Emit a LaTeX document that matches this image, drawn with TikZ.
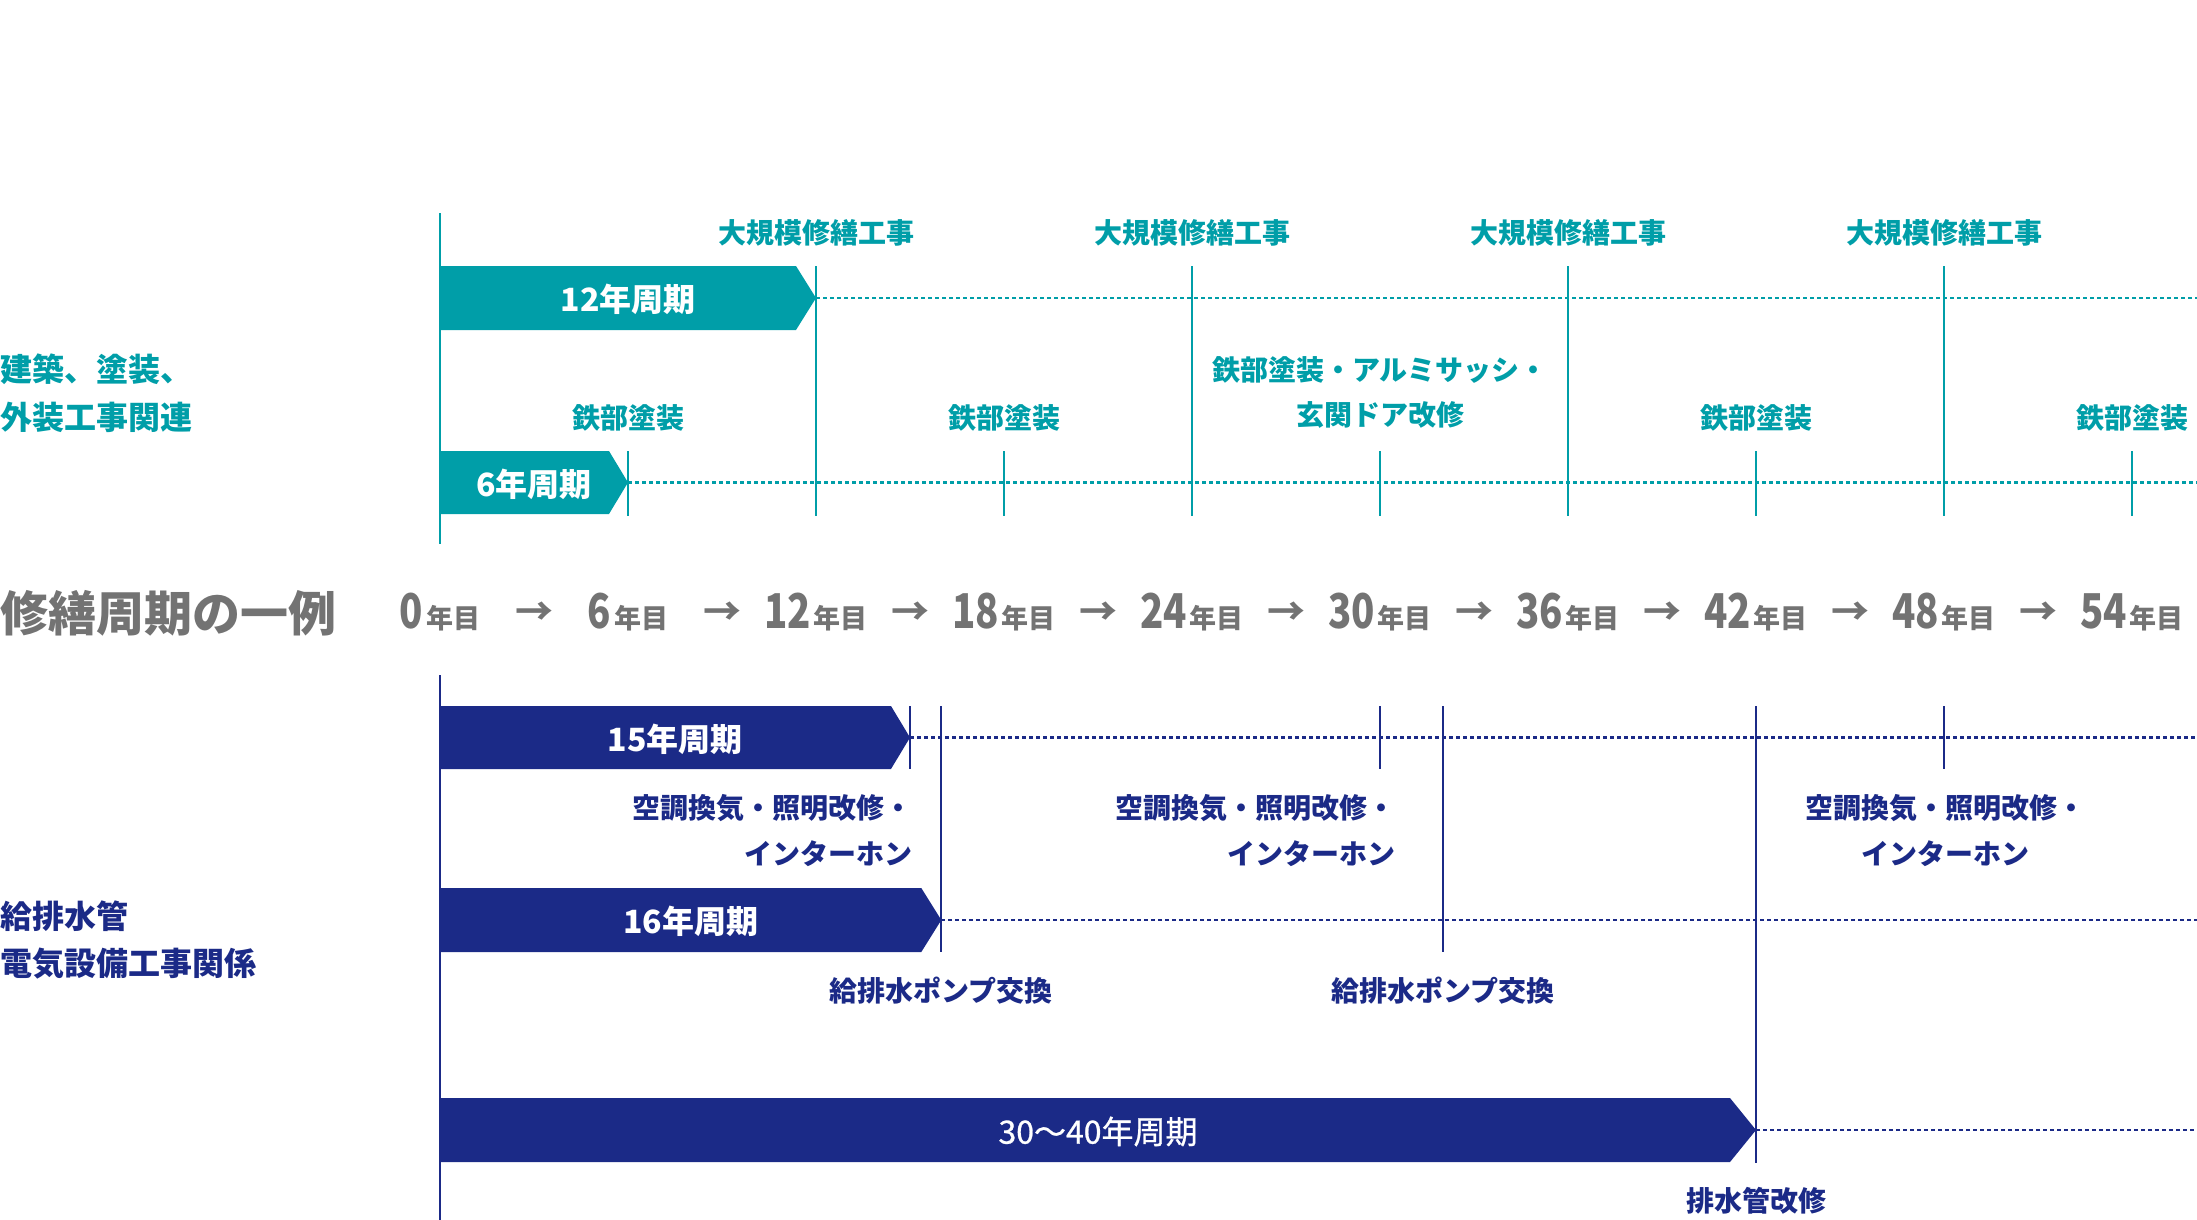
\documentclass[tikz,border=0pt]{standalone}
\usepackage{fontspec}
\setmainfont{Noto Sans CJK JP}
\usepackage{graphicx}
\definecolor{tealc}{HTML}{009EA8}
\definecolor{navyc}{HTML}{1B2A87}
\definecolor{grayc}{HTML}{737373}
\newcommand\yrnum[1]{\scalebox{0.8}[1]{\fontsize{48}{50}\selectfont #1}\hspace{3pt}}
\newcommand\cycbar[5]{% tip x, tip depth, top y, bottom y, colour
  \fill[#5] (440,#3) -- ({#1-#2},#3) -- (#1,{(#3+#4)/2}) -- ({#1-#2},#4) -- (440,#4) -- cycle;}
\begin{document}
\begin{tikzpicture}[x=1pt,y=-1pt,
  vline/.style={line width=2pt},
  dotline/.style={line width=2.2pt, dash pattern=on 4pt off 3pt},
  lbl/.style={font=\bfseries\fontsize{28}{34}\selectfont, inner sep=0pt, yshift=-1.5pt},
  cat/.style={font=\bfseries\fontsize{32}{40}\selectfont, inner sep=0pt, anchor=west, yshift=-1.5pt},
  bartxt/.style={font=\bfseries\fontsize{32}{36}\selectfont, text=white, inner sep=0pt, yshift=-1.5pt},
  yrlbl/.style={font=\bfseries\fontsize{27}{30}\selectfont, text=grayc, inner sep=0pt},
  arr/.style={font=\bfseries\fontsize{38}{40}\selectfont, text=grayc, inner sep=0pt, yshift=-2pt},
]
\useasboundingbox (0,0) rectangle (2197,1220);

% ================= top section (teal) =================
\coordinate (tA) at (440,213); \coordinate (tB) at (440,544);
\draw[tealc, vline] (tA) -- (tB);

\node[cat, text=tealc] (c1a) at (0,368) {建築、塗装、};
\node[cat, text=tealc] (c1b) at (0,416) {外装工事関連};

% 12-year bar
\cycbar{816}{20}{266}{330}{tealc}
\node[bartxt] (b12) at (628,298) {12年周期};
\coordinate (t12) at (816,298); \coordinate (e12) at (2197,298);
\draw[tealc, dotline] (t12) -- (e12);
\foreach \n/\xx in {12/816,24/1192,36/1568,48/1944} {
  \coordinate (v\n a) at (\xx,266); \coordinate (v\n b) at (\xx,516);
  \draw[tealc, vline] (v\n a) -- (v\n b);
  \node[lbl, text=tealc] (mj\n) at (\xx,231) {大規模修繕工事};
}

% 6-year bar
\cycbar{628}{19}{451}{514}{tealc}
\node[bartxt] (b6) at (534,482.5) {6年周期};
\coordinate (t6) at (628,482.5); \coordinate (e6) at (2197,482.5);
\draw[tealc, dotline] (t6) -- (e6);
\foreach \n/\xx in {6/628,18/1004,30/1380,42/1756,54/2132} {
  \coordinate (s\n a) at (\xx,451); \coordinate (s\n b) at (\xx,516);
  \draw[tealc, vline] (s\n a) -- (s\n b);
}
\foreach \n/\xx in {6/628,18/1004,42/1756,54/2132} {
  \node[lbl, text=tealc] (tb\n) at (\xx,416) {鉄部塗装};
}
\node[lbl, text=tealc] (tb30a) at (1380,368) {鉄部塗装・アルミサッシ・};
\node[lbl, text=tealc] (tb30b) at (1380,413) {玄関ドア改修};

% ================= middle row =================
\node[font=\bfseries\fontsize{48}{52}\selectfont, text=grayc, inner sep=0pt, anchor=west] (title) at (0,613) {修繕周期の一例};
\foreach \n in {0,6,...,54} {
  \pgfmathsetmacro\xx{440+31.3333*\n}
  \node[yrlbl] (yr\n) at (\xx,612) {\yrnum{\n}年目};
}
\foreach \n in {3,9,...,51} {
  \pgfmathsetmacro\xx{440+31.3333*\n}
  \node[arr] (ar\n) at (\xx,612) {→};
}

% ================= bottom section (navy) =================
\coordinate (bA) at (440,675); \coordinate (bB) at (440,1220);
\draw[navyc, vline] (bA) -- (bB);

\node[cat, text=navyc] (c2a) at (0,915) {給排水管};
\node[cat, text=navyc] (c2b) at (0,962) {電気設備工事関係};

% 15-year bar
\cycbar{910}{19}{706}{769}{navyc}
\node[bartxt] (b15) at (675,737.5) {15年周期};
\coordinate (t15) at (910,737.5); \coordinate (e15) at (2197,737.5);
\draw[navyc, dotline] (t15) -- (e15);
\foreach \n/\xx in {15/910,30/1380,48/1944} {
  \coordinate (w\n a) at (\xx,706); \coordinate (w\n b) at (\xx,769);
  \draw[navyc, vline] (w\n a) -- (w\n b);
}
\node[lbl, text=navyc, anchor=east] (k1a) at (913,807) {空調換気・照明改修・};
\node[lbl, text=navyc, anchor=east] (k1b) at (913,852) {インターホン};
\node[lbl, text=navyc, anchor=east] (k2a) at (1396,807) {空調換気・照明改修・};
\node[lbl, text=navyc, anchor=east] (k2b) at (1396,852) {インターホン};
\node[lbl, text=navyc] (k3a) at (1945,807) {空調換気・照明改修・};
\node[lbl, text=navyc] (k3b) at (1945,852) {インターホン};

% 16-year bar
\cycbar{941.3}{20}{888}{952}{navyc}
\node[bartxt] (b16) at (690.7,920) {16年周期};
\coordinate (t16) at (941.3,920); \coordinate (e16) at (2197,920);
\draw[navyc, dotline] (t16) -- (e16);
\foreach \n/\xx in {16/941.3,32/1442.7} {
  \coordinate (p\n a) at (\xx,706); \coordinate (p\n b) at (\xx,952);
  \draw[navyc, vline] (p\n a) -- (p\n b);
  \node[lbl, text=navyc] (pl\n) at (\xx,989) {給排水ポンプ交換};
}

% 30-40-year bar
\cycbar{1756}{26}{1098}{1162}{navyc}
\node[font=\fontsize{32}{36}\selectfont\addfontfeature{FakeBold=0.8}, text=white, inner sep=0pt, yshift=-1.5pt] (b30) at (1098,1130) {30〜40年周期};
\coordinate (t30) at (1756,1130); \coordinate (e30) at (2197,1130);
\draw[navyc, dotline] (t30) -- (e30);
\coordinate (q42a) at (1756,706); \coordinate (q42b) at (1756,1163);
\draw[navyc, vline] (q42a) -- (q42b);
\node[lbl, text=navyc] (hp) at (1756,1199) {排水管改修};
\end{tikzpicture}
\end{document}
